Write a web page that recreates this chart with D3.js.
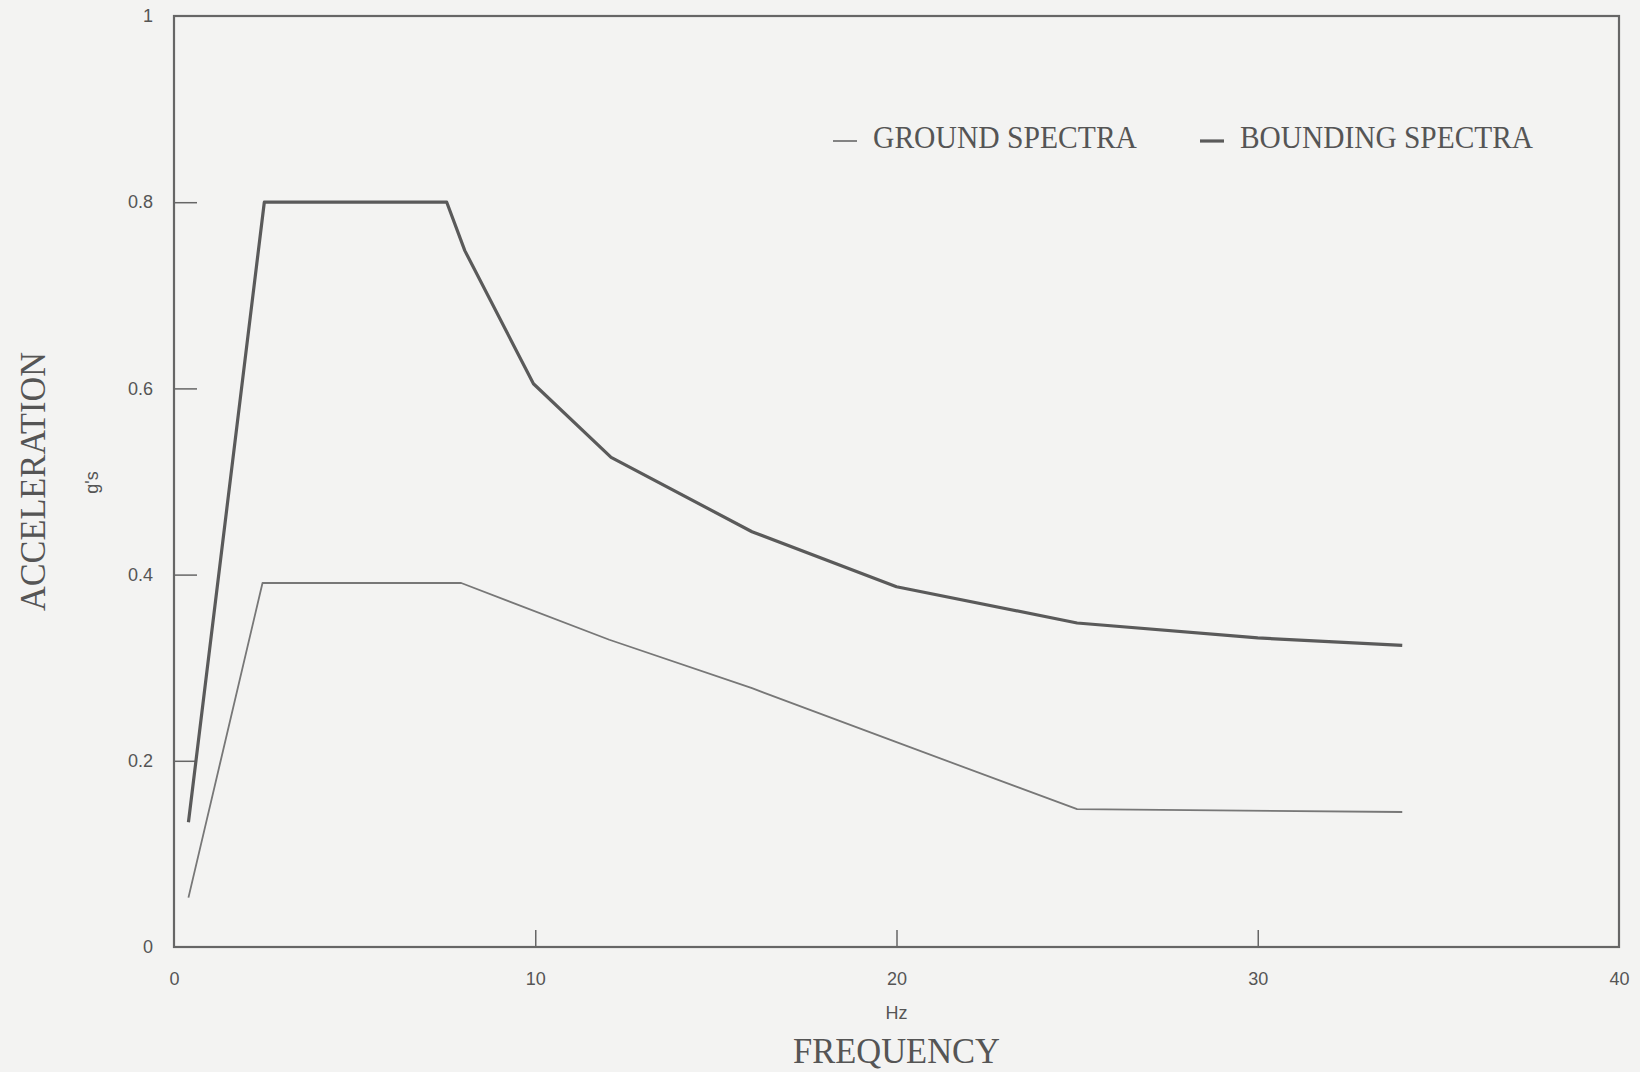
<!DOCTYPE html>
<html lang="en">
<head>
<meta charset="UTF-8">
<script src="https://d3js.org/d3.v7.min.js"></script>
<style>
  html, body { margin: 0; padding: 0; background: #f3f3f2; }
  svg { display: block; }
  .tick text { font-family: "Liberation Sans", Arial, sans-serif; font-size: 18px; fill: #555; }
  .serif { font-family: "Liberation Serif", "Times New Roman", serif; fill: #555; }
  .small { font-family: "Liberation Sans", Arial, sans-serif; font-size: 18px; fill: #555; }
</style>
</head>
<body>
<div id="chart_area"></div>
<script>
// frequency (Hz) and acceleration (g's)
var groundHz   = [0.4, 2.45, 7.95, 12.05, 16, 20, 25, 34];
var groundG    = [0.053, 0.391, 0.391, 0.33, 0.278, 0.22, 0.148, 0.145];
var boundingHz = [0.4, 2.5, 7.55, 8.05, 9.95, 12.1, 16, 20, 25, 30, 34];
var boundingG  = [0.134, 0.8, 0.8, 0.748, 0.605, 0.526, 0.446, 0.387, 0.348, 0.332, 0.324];

var xTicks = [0, 10, 20, 30, 40];
var yTicks = [0, 0.2, 0.4, 0.6, 0.8, 1];
var seriesNames = ["GROUND SPECTRA", "BOUNDING SPECTRA"];

var margin = { top: 16, right: 21, bottom: 125, left: 174 },
    width = 1640 - margin.left - margin.right,
    height = 1072 - margin.top - margin.bottom;

var svg = d3.select("#chart_area")
  .append("svg")
  .attr("width", 1640)
  .attr("height", 1072)
  .append("g")
  .attr("transform", "translate(" + margin.left + "," + margin.top + ")");

var x = d3.scaleLinear().domain([0, 40]).range([0, width]);
var y = d3.scaleLinear().domain([0, 1]).range([height, 0]);

// axes: inward ticks, frame drawn separately
var xAxis = svg.append("g")
  .attr("transform", "translate(0," + height + ")")
  .call(d3.axisBottom(x).tickValues(xTicks).tickSize(-17).tickPadding(25).tickFormat(d3.format("d")));
xAxis.select(".domain").remove();
xAxis.selectAll(".tick line").attr("stroke", "#666").attr("stroke-width", 1.5)
  .filter(function(d) { return d === 0 || d === 40; }).remove();

var yAxis = svg.append("g")
  .call(d3.axisLeft(y).tickValues(yTicks).tickSize(-23).tickPadding(21).tickFormat(function(d) { return d3.format("~g")(d); }));
yAxis.select(".domain").remove();
yAxis.selectAll(".tick line").attr("stroke", "#666").attr("stroke-width", 1.5)
  .filter(function(d) { return d === 0 || d === 1; }).remove();

svg.append("rect")
  .attr("x", 0).attr("y", 0)
  .attr("width", width).attr("height", height)
  .attr("fill", "none")
  .attr("stroke", "#666")
  .attr("stroke-width", 2.2);

var line = d3.line()
  .x(function(d) { return x(d[0]); })
  .y(function(d) { return y(d[1]); });

svg.append("path")
  .datum(d3.zip(groundHz, groundG))
  .attr("d", line)
  .attr("fill", "none")
  .attr("stroke", "#777")
  .attr("stroke-width", 1.8)
  .attr("stroke-linejoin", "round");

svg.append("path")
  .datum(d3.zip(boundingHz, boundingG))
  .attr("d", line)
  .attr("fill", "none")
  .attr("stroke", "#5a5a5a")
  .attr("stroke-width", 3.2)
  .attr("stroke-linejoin", "round");

// legend
var legend = [
  { name: seriesNames[0], lx: 659, tx: 699, len: 264, w: 1.8, c: "#777" },
  { name: seriesNames[1], lx: 1026, tx: 1066, len: 293, w: 3.2, c: "#5a5a5a" }
];
legend.forEach(function(l) {
  svg.append("line")
    .attr("x1", l.lx).attr("x2", l.lx + 24)
    .attr("y1", 125).attr("y2", 125)
    .attr("stroke", l.c).attr("stroke-width", l.w);
  svg.append("text")
    .attr("class", "serif")
    .attr("x", l.tx).attr("y", 132)
    .style("font-size", "32px")
    .attr("textLength", l.len)
    .attr("lengthAdjust", "spacingAndGlyphs")
    .text(l.name);
});

// axis titles
svg.append("text")
  .attr("class", "small")
  .attr("x", x(20)).attr("y", height + 72)
  .attr("text-anchor", "middle")
  .text("Hz");

svg.append("text")
  .attr("class", "serif")
  .attr("x", x(20)).attr("y", height + 116)
  .attr("text-anchor", "middle")
  .style("font-size", "36px")
  .attr("textLength", 207)
  .attr("lengthAdjust", "spacingAndGlyphs")
  .text("FREQUENCY");

svg.append("text")
  .attr("class", "small")
  .attr("transform", "translate(" + (-76) + "," + (y(0.5) + 1) + ") rotate(-90)")
  .attr("text-anchor", "middle")
  .text("g's");

svg.append("text")
  .attr("class", "serif")
  .attr("transform", "translate(" + (-129) + "," + (y(0.5)) + ") rotate(-90)")
  .attr("text-anchor", "middle")
  .style("font-size", "36px")
  .attr("textLength", 259)
  .attr("lengthAdjust", "spacingAndGlyphs")
  .text("ACCELERATION");
</script>
</body>
</html>
